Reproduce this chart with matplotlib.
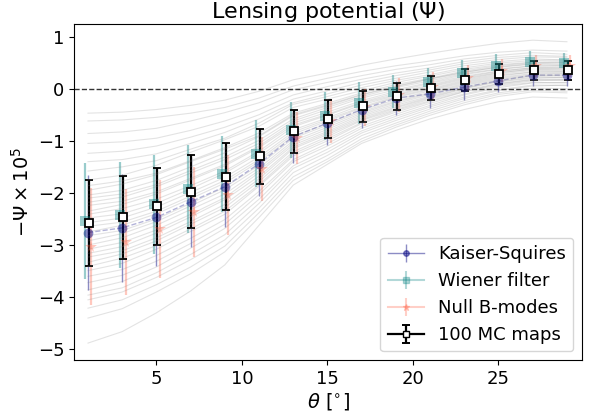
import numpy as np
import matplotlib
matplotlib.use("Agg")
import matplotlib.pyplot as plt

# ---------------- data ----------------
theta = [1, 3, 5, 7, 9, 11, 13, 15, 17, 19, 21, 23, 25, 27, 29]

mc_mean = [-2.58, -2.47, -2.26, -1.98, -1.69, -1.30, -0.82, -0.59, -0.34, -0.15, 0.01, 0.17, 0.28, 0.35, 0.35]
mc_err = [0.82, 0.79, 0.74, 0.70, 0.645, 0.525, 0.42, 0.365, 0.295, 0.265, 0.23, 0.21, 0.185, 0.175, 0.175]

ks_val = [-2.76, -2.67, -2.47, -2.17, -1.88, -1.44, -0.92, -0.66, -0.40, -0.18, -0.10, 0.03, 0.15, 0.26, 0.26]
ks_err = [1.10, 1.03, 0.94, 0.86, 0.77, 0.62, 0.50, 0.42, 0.36, 0.32, 0.28, 0.25, 0.22, 0.21, 0.21]

wf_val = [-2.54, -2.42, -2.22, -1.93, -1.64, -1.25, -0.79, -0.52, -0.27, -0.06, 0.12, 0.30, 0.44, 0.52, 0.49]
wf_err = [1.11, 1.02, 0.95, 0.84, 0.73, 0.64, 0.54, 0.46, 0.40, 0.32, 0.28, 0.25, 0.22, 0.20, 0.20]

nb_val = [-3.03, -2.94, -2.70, -2.36, -2.04, -1.54, -0.94, -0.62, -0.36, -0.12, 0.04, 0.20, 0.34, 0.44, 0.43]
nb_err = [1.12, 1.02, 0.94, 0.86, 0.77, 0.62, 0.50, 0.42, 0.36, 0.32, 0.28, 0.25, 0.22, 0.21, 0.21]

# individual MC realisations (grey curves)
mc_maps = [
    [-0.47, -0.45, -0.40, -0.32, -0.22, -0.05, 0.17, 0.30, 0.45, 0.57, 0.68, 0.78, 0.87, 0.93, 0.90],
    [-0.62, -0.60, -0.55, -0.47, -0.36, -0.18, 0.05, 0.20, 0.33, 0.44, 0.53, 0.63, 0.70, 0.74, 0.72],
    [-0.86, -0.83, -0.76, -0.62, -0.46, -0.27, -0.02, 0.12, 0.25, 0.37, 0.46, 0.57, 0.64, 0.69, 0.66],
    [-1.05, -1.02, -0.95, -0.80, -0.62, -0.40, -0.12, 0.04, 0.18, 0.30, 0.40, 0.52, 0.60, 0.64, 0.62],
    [-1.24, -1.20, -1.10, -0.93, -0.74, -0.50, -0.20, -0.04, 0.12, 0.25, 0.36, 0.48, 0.56, 0.61, 0.60],
    [-1.40, -1.36, -1.25, -1.05, -0.84, -0.58, -0.27, -0.10, 0.07, 0.20, 0.32, 0.44, 0.52, 0.57, 0.55],
    [-1.58, -1.50, -1.38, -1.16, -0.95, -0.66, -0.30, -0.15, 0.02, 0.16, 0.27, 0.40, 0.49, 0.54, 0.55],
    [-1.75, -1.66, -1.47, -1.22, -0.98, -0.72, -0.36, -0.20, -0.04, 0.12, 0.24, 0.37, 0.46, 0.51, 0.50],
    [-1.86, -1.77, -1.62, -1.38, -1.13, -0.85, -0.47, -0.28, -0.08, 0.08, 0.20, 0.34, 0.44, 0.50, 0.52],
    [-1.95, -1.83, -1.65, -1.40, -1.16, -0.90, -0.50, -0.31, -0.11, 0.05, 0.19, 0.32, 0.41, 0.47, 0.46],
    [-2.04, -1.95, -1.76, -1.50, -1.23, -0.92, -0.52, -0.33, -0.12, 0.04, 0.18, 0.31, 0.42, 0.48, 0.49],
    [-2.10, -2.02, -1.84, -1.57, -1.31, -0.99, -0.58, -0.36, -0.15, 0.02, 0.15, 0.29, 0.38, 0.44, 0.43],
    [-2.18, -2.08, -1.88, -1.62, -1.36, -1.05, -0.62, -0.40, -0.18, -0.02, 0.12, 0.27, 0.37, 0.43, 0.45],
    [-2.24, -2.16, -1.98, -1.72, -1.45, -1.10, -0.66, -0.45, -0.23, -0.05, 0.10, 0.24, 0.34, 0.40, 0.39],
    [-2.35, -2.22, -2.02, -1.75, -1.48, -1.13, -0.70, -0.49, -0.26, -0.08, 0.07, 0.22, 0.33, 0.40, 0.41],
    [-2.41, -2.30, -2.12, -1.86, -1.58, -1.20, -0.73, -0.51, -0.28, -0.11, 0.05, 0.20, 0.31, 0.37, 0.36],
    [-2.48, -2.40, -2.20, -1.92, -1.62, -1.24, -0.79, -0.56, -0.31, -0.13, 0.03, 0.18, 0.30, 0.38, 0.38],
    [-2.57, -2.48, -2.27, -1.99, -1.70, -1.31, -0.83, -0.59, -0.35, -0.15, 0.00, 0.16, 0.28, 0.35, 0.34],
    [-2.64, -2.56, -2.35, -2.06, -1.76, -1.36, -0.87, -0.62, -0.37, -0.17, -0.02, 0.14, 0.26, 0.32, 0.31],
    [-2.75, -2.62, -2.40, -2.11, -1.81, -1.40, -0.91, -0.67, -0.41, -0.21, -0.04, 0.12, 0.24, 0.32, 0.33],
    [-2.82, -2.72, -2.50, -2.20, -1.89, -1.47, -0.95, -0.70, -0.44, -0.24, -0.07, 0.10, 0.22, 0.29, 0.28],
    [-2.92, -2.78, -2.55, -2.25, -1.94, -1.52, -1.00, -0.74, -0.47, -0.26, -0.09, 0.08, 0.20, 0.27, 0.29],
    [-3.00, -2.86, -2.62, -2.32, -2.02, -1.57, -1.04, -0.78, -0.50, -0.29, -0.11, 0.06, 0.18, 0.25, 0.24],
    [-3.08, -2.95, -2.71, -2.41, -2.09, -1.61, -1.08, -0.82, -0.53, -0.32, -0.14, 0.03, 0.16, 0.24, 0.26],
    [-3.16, -3.03, -2.77, -2.46, -2.13, -1.68, -1.12, -0.85, -0.56, -0.35, -0.16, 0.01, 0.14, 0.22, 0.21],
    [-3.23, -3.11, -2.86, -2.55, -2.22, -1.73, -1.15, -0.88, -0.59, -0.37, -0.18, 0.00, 0.13, 0.20, 0.22],
    [-3.33, -3.17, -2.92, -2.60, -2.28, -1.78, -1.21, -0.92, -0.61, -0.40, -0.20, -0.03, 0.10, 0.18, 0.18],
    [-3.41, -3.25, -3.01, -2.69, -2.35, -1.84, -1.25, -0.96, -0.65, -0.42, -0.23, -0.05, 0.09, 0.17, 0.16],
    [-3.49, -3.35, -3.08, -2.74, -2.41, -1.87, -1.29, -1.00, -0.67, -0.45, -0.25, -0.06, 0.07, 0.15, 0.17],
    [-3.60, -3.47, -3.20, -2.87, -2.51, -1.97, -1.36, -1.05, -0.72, -0.49, -0.28, -0.10, 0.05, 0.12, 0.11],
    [-3.72, -3.58, -3.31, -2.97, -2.60, -2.03, -1.40, -1.10, -0.76, -0.53, -0.32, -0.12, 0.02, 0.11, 0.12],
    [-3.86, -3.70, -3.42, -3.06, -2.68, -2.12, -1.48, -1.16, -0.81, -0.57, -0.35, -0.16, -0.02, 0.07, 0.06],
    [-3.96, -3.82, -3.53, -3.18, -2.80, -2.20, -1.53, -1.22, -0.85, -0.61, -0.39, -0.19, -0.04, 0.05, 0.07],
    [-4.05, -3.90, -3.62, -3.28, -2.90, -2.29, -1.61, -1.28, -0.90, -0.66, -0.43, -0.23, -0.08, 0.01, 0.00],
    [-4.21, -4.05, -3.76, -3.42, -3.02, -2.38, -1.69, -1.35, -0.96, -0.70, -0.47, -0.27, -0.11, -0.03, -0.05],
    [-4.40, -4.22, -3.90, -3.55, -3.13, -2.47, -1.76, -1.40, -1.01, -0.74, -0.51, -0.31, -0.15, -0.06, -0.08],
    [-4.88, -4.66, -4.30, -3.88, -3.38, -2.62, -1.85, -1.45, -1.05, -0.80, -0.58, -0.40, -0.25, -0.16, -0.18],
]

labels = ["Kaiser-Squires", "Wiener filter", "Null B-modes", "100 MC maps"]

# ---------------- figure ----------------
fig = plt.figure(figsize=(5.96, 4.12), dpi=100)
ax = fig.add_axes([0.1247, 0.1255, 0.977 - 0.1247, 0.9417 - 0.1255])

th = np.array(theta, dtype=float)

ks_c, ks_a = "navy", 0.45
wf_c, wf_a = "teal", 0.4
nb_c, nb_a = "tomato", 0.35

# Wiener filter
ax.errorbar(th - 0.15, wf_val, yerr=wf_err, fmt="s", color=wf_c, alpha=wf_a,
            markersize=7, mew=0, elinewidth=1.6, linestyle="none")
# Kaiser-Squires
ax.plot(th, ks_val, linestyle="--", color=ks_c, alpha=0.3, lw=1.0)
ax.errorbar(th, ks_val, yerr=ks_err, fmt="o", color=ks_c, alpha=ks_a,
            markersize=7, mew=0, elinewidth=1.0, linestyle="none")
# Null B-modes
ax.errorbar(th + 0.2, nb_val, yerr=nb_err, fmt="*", color=nb_c, alpha=nb_a,
            markersize=8.5, mew=0, elinewidth=1.6, linestyle="none")
# MC
ax.errorbar(th + 0.05, mc_mean, yerr=mc_err, fmt="s", color="k", mfc="white",
            mec="k", mew=1.3, markersize=6, ecolor="k", elinewidth=1.6,
            capsize=2.6, capthick=1.4, linestyle="none")

# grey individual maps
for row in mc_maps:
    ax.plot(th, row, color="gray", alpha=0.22, lw=0.8, zorder=2.05)

ax.axhline(0, color="k", ls="--", lw=1.0, alpha=0.8, zorder=1.5)

# legend proxies
nan = [np.nan]
h1 = ax.errorbar(nan, nan, yerr=nan, fmt="o-", color=ks_c, alpha=ks_a, markersize=4, lw=1.0)
h2 = ax.errorbar(nan, nan, yerr=nan, fmt="s-", color=wf_c, alpha=0.3, markersize=4, lw=1.5)
h3 = ax.errorbar(nan, nan, yerr=nan, fmt="*-", color=nb_c, alpha=0.3, markersize=5, lw=1.5)
h4 = ax.errorbar(nan, nan, yerr=nan, fmt="s-", color="k", mfc="white", mec="k",
                 markersize=5, capsize=2.6, capthick=1.4, lw=1.6)
ax.legend([h1, h2, h3, h4], labels, loc="lower right", fontsize=13)

ax.set_xlim(0.2, 29.9)
ax.set_ylim(-5.21, 1.24)
ax.set_xticks([5, 10, 15, 20, 25])
ax.set_yticks([-5, -4, -3, -2, -1, 0, 1])
ax.tick_params(labelsize=13)
ax.set_xlabel(r"$\theta$ [$^{\circ}$]", fontsize=14, labelpad=2)
ax.set_ylabel(r"$-\Psi\times10^5$", fontsize=14)
ax.set_title(r"Lensing potential ($\Psi$)", fontsize=16, pad=2)

fig.savefig("out.png", dpi=100)
